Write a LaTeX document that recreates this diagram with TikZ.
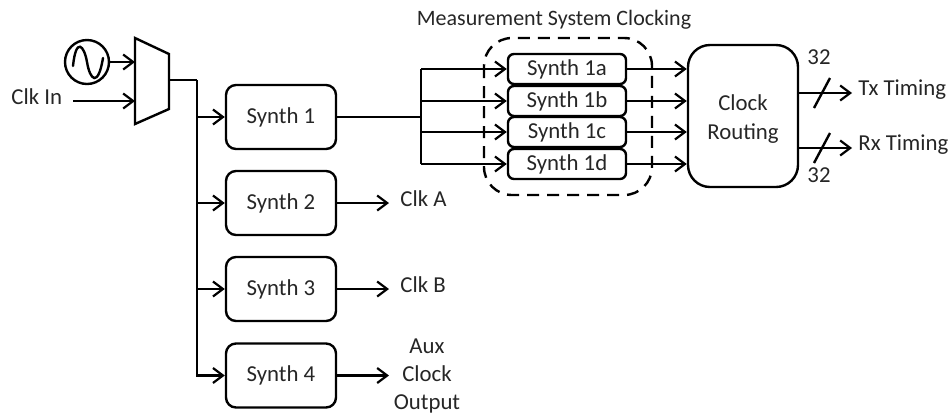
\documentclass[tikz,border=0pt]{standalone}
\usepackage{fontspec}
\setmainfont{Carlito}
\usetikzlibrary{arrows.meta}

\tikzset{
    wire/.style={line width=1.2pt},
    sig/.style={wire, -{Straight Barb[length=5pt,width=7.5pt,line width=1.1pt]}},
    synthbox/.style={draw, line width=1.2pt, rounded corners=5pt, minimum width=55pt, minimum height=32pt, inner sep=0pt},
    subbox/.style={draw, line width=1.2pt, rounded corners=3pt, minimum width=59pt, minimum height=15pt, inner sep=0pt},
    lbl/.style={inner sep=0pt, font=\fontsize{11.4}{14.2}\selectfont, text=black!85}
}

\begin{document}
\begin{tikzpicture}[x=0.5pt, y=-0.5pt]
    \useasboundingbox (0, 0) rectangle (952, 414);

    % input side
    \node[draw, circle, line width=1.2pt, minimum size=22pt, inner sep=0pt] (osc) at (87, 62) {};
    \draw[wire, line cap=round] (73, 66) .. controls (76, 37) and (84, 45) .. (87, 62) .. controls (90, 80) and (98, 88) .. (103, 58);
    \coordinate (muxa) at (135, 38);
    \coordinate (muxb) at (169, 54);
    \coordinate (muxc) at (169, 109);
    \coordinate (muxd) at (135, 124);
    \draw[wire, line join=miter] (muxa) -- (muxb) -- (muxc) -- (muxd) -- cycle;
    \coordinate (muxin) at (135, 101);
    \coordinate (muxosc) at (135, 62);
    \coordinate (muxout) at (169, 80);
    \node[lbl, anchor=west] (clkin) at (11, 97) {Clk In};
    \coordinate (clkinend) at (73, 101);
    \draw[sig] (osc) -- (muxosc);
    \draw[sig] (clkinend) -- (muxin);

    % main synths
    \node[synthbox, lbl] (syn1) at (281, 117) {Synth 1};
    \node[synthbox, lbl] (syn2) at (281, 203) {Synth 2};
    \node[synthbox, lbl] (syn3) at (281, 289) {Synth 3};
    \node[synthbox, lbl] (syn4) at (281, 375.5) {Synth 4};

    \coordinate (bus) at (197, 80);
    \draw[wire] (muxout) -- (bus);
    \draw[sig] (197, 117) -- (syn1.west);
    \draw[sig] (197, 203) -- (syn2.west);
    \draw[sig] (197, 289) -- (syn3.west);
    \draw[sig] (bus) |- (syn4.west);

    % outputs of synth 2 to 4
    \coordinate (clkaend) at (389, 203);
    \coordinate (clkbend) at (389, 289);
    \coordinate (auxend) at (389, 375.5);
    \draw[sig] (syn2) -- (clkaend);
    \draw[sig] (syn3) -- (clkbend);
    \draw[sig] (syn4) -- (auxend);
    \node[lbl, anchor=west] (clka) at (400, 199) {Clk A};
    \node[lbl, anchor=west] (clkb) at (400, 285) {Clk B};
    \node[lbl, align=center] (aux) at (427, 376) {Aux\\Clock\\Output};

    % measurement system
    \node[subbox, lbl] (syna) at (567, 69) {Synth 1a};
    \node[subbox, lbl] (synb) at (567, 101) {Synth 1b};
    \node[subbox, lbl] (sync) at (567, 132) {Synth 1c};
    \node[subbox, lbl] (synd) at (567, 164) {Synth 1d};
    \draw[wire, dashed, dash pattern=on 6pt off 4pt, rounded corners=14pt] (484, 38) rectangle (652, 195);
    \node[lbl, font=\fontsize{11}{14}\selectfont] (meas) at (554, 20) {Measurement System Clocking};

    \node[draw, line width=1.2pt, rounded corners=11pt, minimum width=55pt, minimum height=71pt, inner sep=0pt] (route) at (743, 116) {};
    \node[lbl, align=center] (routelbl) at (743, 119) {Clock\\Routing};

    \coordinate (split) at (421, 117);
    \draw[wire] (syn1) -- (split);
    \draw[wire] (421, 69) -- (421, 164);
    \foreach \n in {syna, synb, sync, synd} {
        \draw[sig] (split |- \n) -- (\n.west);
        \draw[sig] (\n.east) -- (route.west |- \n);
    }

    % timing outputs
    \coordinate (txend) at (852, 93);
    \coordinate (rxend) at (852, 148);
    \draw[sig] (route.east |- txend) -- (txend);
    \draw[sig] (route.east |- rxend) -- (rxend);
    \coordinate (txcut) at (822, 93);
    \coordinate (rxcut) at (822, 148);
    \draw[wire] ([shift={(-8, 15)}]txcut) -- ([shift={(8, -15)}]txcut);
    \draw[wire] ([shift={(-8, 15)}]rxcut) -- ([shift={(8, -15)}]rxcut);
    \node[lbl] (txw) at (819, 57) {32};
    \node[lbl] (rxw) at (819, 175) {32};
    \node[lbl, anchor=west] (tx) at (858, 90) {Tx Timing};
    \node[lbl, anchor=west] (rx) at (858, 145) {Rx Timing};
\end{tikzpicture}
\end{document}
